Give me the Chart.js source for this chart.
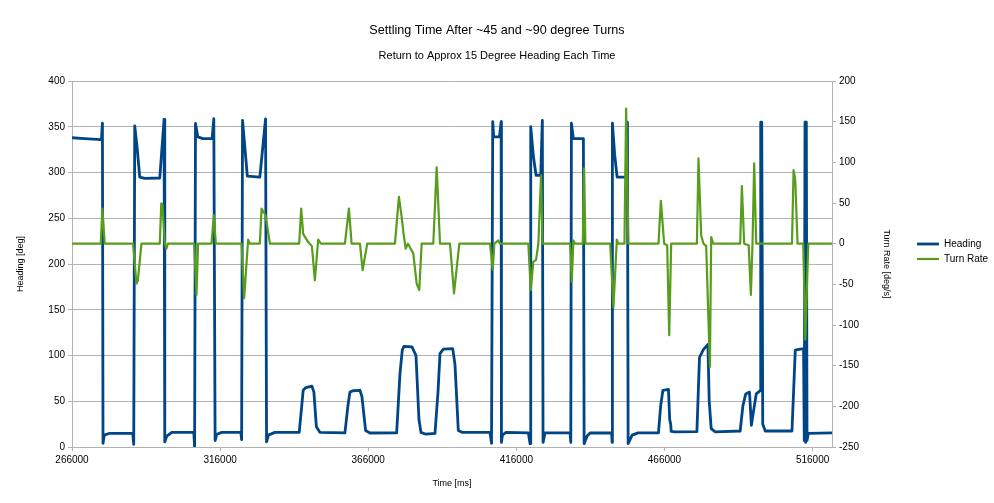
<!DOCTYPE html>
<html><head><meta charset="utf-8">
<script src="https://cdn.jsdelivr.net/npm/chart.js@4/dist/chart.umd.min.js"></script>
<style>html,body{margin:0;padding:0;background:#fff}</style>
</head><body>
<canvas id="c" width="994" height="503"></canvas>
<script>
// ---- data ----
const headingTime = [266000, 270290, 275930, 276270, 276470, 276880, 278740, 286510, 286840, 287180,
  287960, 288870, 290560, 295630, 297080, 297320, 297990, 299680, 307115, 307390,
  307690, 308470, 310160, 313300, 313870, 314310, 314890, 316580, 322990, 323260,
  323570, 324340, 325190, 329410, 331340, 331680, 332290, 334480, 342690, 343270,
  344040, 344950, 346980, 347660, 348500, 349680, 358130, 359140, 359820, 360830,
  363200, 363870, 365120, 366580, 375600, 376710, 377490, 378060, 380770, 382120,
  383130, 383810, 385500, 388540, 389550, 390230, 391340, 394520, 395290, 396410,
  397660, 407110, 407620, 408030, 408370, 410300, 410870, 410970, 411300, 412520,
  420050, 420630, 420860, 421740, 422650, 424240, 424780, 425020, 425690, 434140,
  434380, 434590, 435260, 438640, 438880, 439890, 440900, 448170, 448340, 448430,
  449180, 450020, 453060, 453500, 453740, 455090, 457120, 463980, 464720, 465470,
  467360, 467770, 468110, 468270, 469620, 476950, 477830, 479180, 480670, 481110,
  481780, 483130, 491560, 492480, 493430, 494710, 495350, 495970, 496980, 498330,
  498500, 498840, 499180, 500020, 509050, 510160, 511860, 512960, 513200, 513450,
  513650, 513890, 514130, 514560, 522560];
const headingDeg = [338, 337, 336, 354, 4, 13, 15, 15, 3, 351,
  328, 295, 293.5, 294, 358, 5.5, 12, 16, 16, 0,
  353.7, 339, 337, 337, 359, 7, 14, 16, 16, 8,
  357, 328, 296, 295, 358.5, 5.5, 13, 16, 16, 35,
  62, 65, 66.5, 60, 22, 16, 15.5, 45, 60, 61.5,
  62, 55, 18, 15.3, 15.5, 80, 106, 110, 109.5, 100,
  30, 16, 14, 15, 60, 102, 107, 107.5, 90, 18,
  16, 16, 4, 355.5, 339, 339, 355.5, 5, 13, 16,
  15.5, 3.6, 350, 318, 297, 297, 357, 5, 15.5, 15.5,
  5, 354, 337, 337, 3.6, 12, 15.3, 15.3, 5, 354,
  320, 295, 295, 355, 3.6, 13, 15.5, 15.5, 45, 62,
  63, 30, 25, 17, 16.5, 16.8, 98, 106.7, 112, 50,
  20, 16.5, 17.5, 45, 58, 60, 23.7, 37, 58, 61.6,
  355, 355, 25, 17.5, 17.5, 105.8, 107, 107.6, 7, 355,
  5, 355, 7, 15, 15.5];

const rateTime = [266000, 275700, 276270, 277050, 286610, 287760, 288200, 289450, 295630, 296140,
  296540, 297320, 297890, 298330, 307220, 308030, 308570, 313100, 313870, 314550,
  323230, 324110, 325460, 326030, 329410, 329990, 331340, 332790, 342690, 343370,
  344040, 345730, 346980, 347990, 349110, 350020, 358130, 359480, 360390, 363200,
  364110, 365660, 375020, 376370, 377290, 377830, 378640, 379420, 381210, 382350,
  383230, 384040, 387960, 389110, 390230, 393610, 394960, 396750, 407110, 408030,
  408570, 409920, 410490, 420050, 420860, 421740, 422650, 423430, 424340, 424850,
  434140, 434710, 435260, 435830, 438430, 438880, 439320, 447670, 448780, 449930,
  450370, 452490, 453060, 453840, 463980, 464790, 465910, 466920, 467600, 468270,
  476950, 477490, 478400, 479180, 480090, 481340, 481780, 482450, 491560, 492140,
  492910, 494430, 495180, 495720, 496290, 496980, 509050, 509590, 510160, 510930,
  512860, 513540, 514560, 522560];
const rateDegS = [0, 0, 43, 0, 0, -49, -46, 0, 0, 49.5,
  48, 0, -6, 0, 0, -63, 0, 0, 35, 0,
  0, -67, 5, 0, 0, 43, 35, 0, 0, 43,
  12, 2, -3, -45, 5, 0, 0, 43, 0, 0,
  -32.6, 0, 0, 57.6, 33, 15, -6, 0, -12, -49,
  -57, 0, 0, 93.8, 0, 0, -61, 0, 0, -32,
  0, 4, 0, 0, -57, -22, -20, 0, 84, 0,
  0, -47, 4, 0, 0, 92.5, 0, 0, -78, 5,
  0, 0, 166, 0, 0, 52.7, 0, -2, -112.6, 0,
  0, 104.8, 10, 0, -3, -151.6, 8, 0, 0, 70.8,
  0, -2, -63, 0, 98.7, 0, 0, 90.5, 78, 0,
  0, -118, 0, 0];

const timeTicks = [266000, 316000, 366000, 416000, 466000, 516000];

// ---- chart ----
const FONT = 'Liberation Sans';
const GRID = '#b3b3b3';
const pts = (xs, ys) => xs.map((x, i) => ({x: x, y: ys[i]}));

new Chart(document.getElementById('c'), {
  type: 'line',
  data: {
    datasets: [
      {label: 'Heading', data: pts(headingTime, headingDeg), yAxisID: 'y',
       borderColor: '#004586', backgroundColor: '#004586', borderWidth: 2.8,
       borderJoinStyle: 'round', borderCapStyle: 'round',
       pointRadius: 0, tension: 0, order: 1},
      {label: 'Turn Rate', data: pts(rateTime, rateDegS), yAxisID: 'y1',
       borderColor: '#579d1c', backgroundColor: '#579d1c', borderWidth: 2.2,
       borderJoinStyle: 'round', borderCapStyle: 'round',
       pointRadius: 0, tension: 0, order: 0}
    ]
  },
  options: {
    responsive: false, animation: false,
    layout: {padding: 0},
    plugins: {
      title: {display: true, text: 'Settling Time After ~45 and ~90 degree Turns', color: '#000',
              font: {family: FONT, size: 12.6, weight: 'normal'}, padding: {top: 23.4, bottom: 10.9}},
      subtitle: {display: true, text: 'Return to Approx 15 Degree Heading Each Time', color: '#000',
              font: {family: FONT, size: 11, weight: 'normal'}, padding: {top: 0, bottom: 18.4}},
      legend: {position: 'right', maxWidth: 82,
        labels: {usePointStyle: true, pointStyle: 'line', pointStyleWidth: 22, padding: 5,
                 color: '#000', font: {family: FONT, size: 10},
                 sort: (a, b) => a.datasetIndex - b.datasetIndex}},
      tooltip: {enabled: false}
    },
    scales: {
      x: {type: 'linear', position: 'bottom', min: 266000, max: 522560,
        afterBuildTicks: s => { s.ticks = timeTicks.map(v => ({value: v})); },
        afterFit: s => { s.height = 56; },
        grid: {drawOnChartArea: false, drawTicks: true, tickLength: 4, color: GRID},
        border: {color: GRID},
        ticks: {color: '#000', font: {family: FONT, size: 10}, padding: 3, maxRotation: 0,
                autoSkip: false, callback: v => String(v)},
        title: {display: true, text: 'Time [ms]', color: '#000', font: {family: FONT, size: 9},
                padding: {top: 0, bottom: 14.3}}},
      y: {position: 'left', min: 0, max: 400,
        afterFit: s => { s.width = 72; },
        grid: {color: GRID, tickLength: 4, drawTicks: true},
        border: {color: GRID},
        ticks: {stepSize: 50, color: '#000', font: {family: FONT, size: 10}, padding: 3},
        title: {display: true, text: 'Heading [deg]', color: '#000', font: {family: FONT, size: 9},
                padding: {top: 15.3, bottom: 0}}},
      y1: {position: 'right', min: -250, max: 200,
        afterFit: s => { s.width = 80; },
        grid: {drawOnChartArea: false, tickLength: 4, drawTicks: true, color: GRID},
        border: {color: GRID},
        ticks: {stepSize: 50, color: '#000', font: {family: FONT, size: 10}, padding: 3},
        title: {display: true, text: 'Turn Rate [deg/s]', color: '#000', font: {family: FONT, size: 9},
                padding: {top: 19.9, bottom: 0}}}
    }
  }
});
</script>
</body></html>
